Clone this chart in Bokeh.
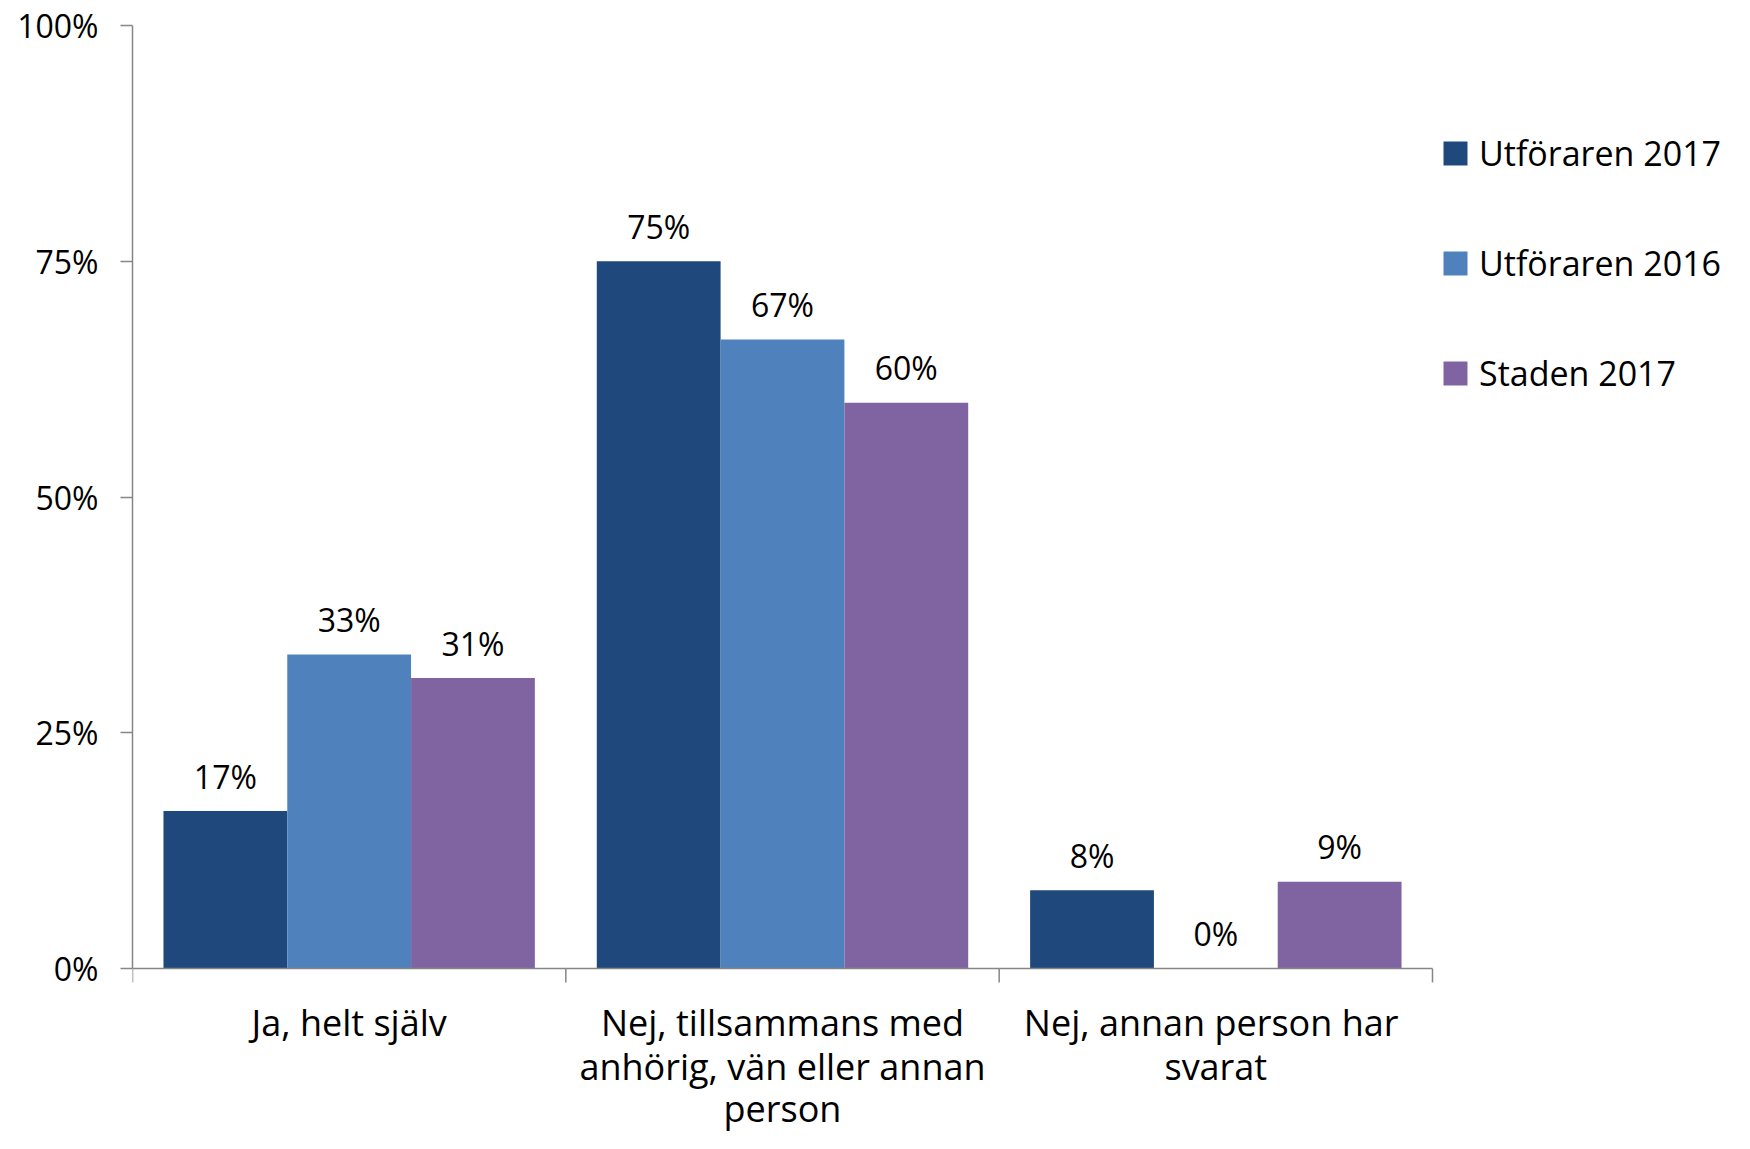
from bokeh.plotting import figure
from bokeh.models import (ColumnDataSource, FixedTicker, Legend, LegendItem,
                          Range1d)
from bokeh.embed import file_html
from bokeh.resources import INLINE

# ---- data ----
categories = [["Ja, helt själv"],
              ["Nej, tillsammans med", "anhörig, vän eller annan", "person"],
              ["Nej,  annan person har", "svarat"]]
series_names = ["Utföraren 2017", "Utföraren 2016", "Staden 2017"]
utf_2017 = [16.7, 75.0, 8.3]
utf_2016 = [33.3, 66.7, 0.0]
staden_2017 = [30.8, 60.0, 9.2]
value_labels = [["17%", "75%", "8%"], ["33%", "67%", "0%"], ["31%", "60%", "9%"]]
y_ticks = [0, 25, 50, 75, 100]
y_tick_labels = ["0%", "25%", "50%", "75%", "100%"]

colors = ["#1F497D", "#4F81BD", "#8064A2"]
FONT = "Open Sans"

W, H = 1734, 1133
LEFT = 132          # frame left (px)
TOP_PAD = 25        # px above the 100% line
AX_Y = 968          # px of the 0% line
PX_PER_UNIT = (AX_Y - TOP_PAD) / 100.0
CAT_PX = 433.33     # px per category
n = len(categories)

y0 = -(H - AX_Y) / PX_PER_UNIT
y1 = 100 + TOP_PAD / PX_PER_UNIT
x1 = (W - LEFT) / CAT_PX

p = figure(width=W, height=H, output_backend="svg", toolbar_location=None,
           x_range=Range1d(0, x1), y_range=Range1d(y0, y1),
           x_axis_location=None,
           min_border_left=LEFT, min_border_top=0, min_border_right=0,
           min_border_bottom=0)
p.outline_line_color = None
p.xgrid.visible = False
p.ygrid.visible = False
p.background_fill_color = "white"
p.border_fill_color = "white"

bw = 0.2857
offsets = [-bw, 0.0, bw]
all_series = [utf_2017, utf_2016, staden_2017]
items = []
for s, (vals, off, col, name, labs) in enumerate(zip(all_series, offsets, colors,
                                                      series_names, value_labels)):
    xs = [i + 0.5 + off for i in range(n)]
    src = ColumnDataSource(dict(x=xs, top=vals, lab=labs))
    r = p.vbar(x="x", top="top", bottom=0, width=bw, source=src, fill_color=col,
               line_color=None)
    p.text(x="x", y="top", text="lab", source=src, text_align="center",
           text_baseline="middle", y_offset=-35, text_font_size="32px",
           text_font={"value": FONT}, text_color="black")
    items.append(LegendItem(label=name, renderers=[r]))

# y axis
ax_col = "#868686"
yax = p.yaxis[0]
yax.bounds = (0, 100)
yax.ticker = FixedTicker(ticks=y_ticks, minor_ticks=[])
yax.major_label_overrides = {t: l for t, l in zip(y_ticks, y_tick_labels)}
yax.major_label_text_font_size = "32px"
yax.major_label_text_font = FONT
yax.major_label_text_color = "black"
yax.axis_line_color = ax_col
yax.axis_line_width = 1.5
yax.major_tick_line_color = ax_col
yax.major_tick_line_width = 1.5
yax.major_tick_out = 12
yax.major_tick_in = 0
yax.minor_tick_line_color = None
yax.major_label_standoff = 22

# x axis line and category boundary ticks
bounds = list(range(n + 1))
p.segment(x0=[0], y0=[0], x1=[n], y1=[0], line_color=ax_col, line_width=1.5)
p.segment(x0=bounds, y0=[0] * len(bounds), x1=bounds,
          y1=[-14 / PX_PER_UNIT] * len(bounds), line_color=ax_col, line_width=1.5)

# category labels
line_px = [54, 98, 140]
cx, cy, ct = [], [], []
for i, lines in enumerate(categories):
    for j, txt in enumerate(lines):
        cx.append(i + 0.5)
        cy.append(-line_px[j] / PX_PER_UNIT)
        ct.append(txt)
p.text(x=cx, y=cy, text=ct, text_align="center", text_baseline="middle",
       text_font_size="36px", text_font={"value": FONT}, text_color="black")

# legend (inside the frame, which spans to the right edge)
leg_x = 1440 - LEFT
leg_y = H - 396
legend = Legend(items=items, location=(leg_x, leg_y), orientation="vertical",
                glyph_width=30, glyph_height=30, label_height=24,
                label_standoff=9, spacing=64, padding=0, margin=0,
                label_text_font_size="34px", label_text_font=FONT,
                label_text_color="black", border_line_color=None,
                background_fill_alpha=0)
p.add_layout(legend, "center")

open("out.html", "w").write(file_html(p, INLINE))
